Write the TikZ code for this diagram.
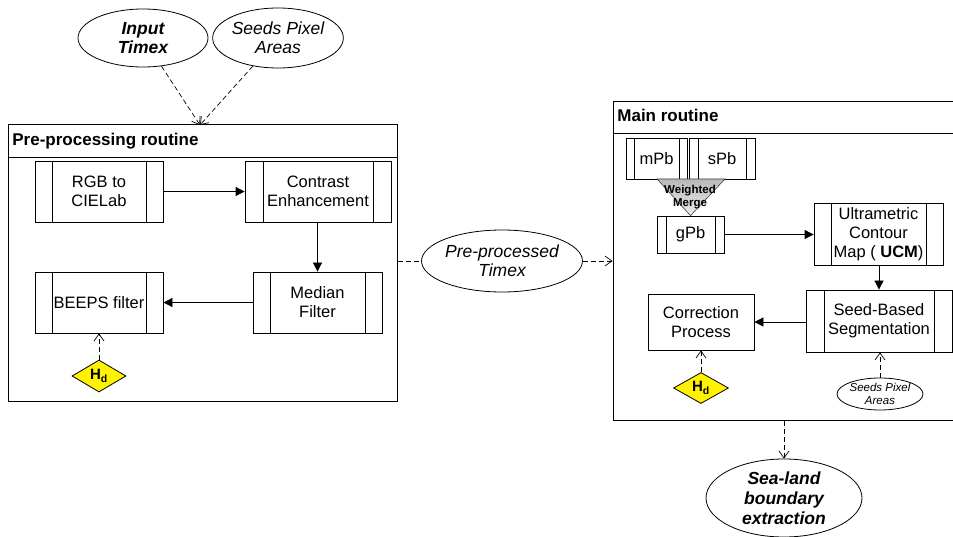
\documentclass[tikz,border=0pt]{standalone}
\usepackage{fontspec}
\setmainfont{Liberation Sans}
\usetikzlibrary{arrows.meta,shapes.geometric}

\tikzset{
  boxtext/.style={font=\fontsize{16.5}{19}\selectfont},
  proc/.style={draw, rectangle, align=center, boxtext, inner sep=0pt,
    path picture={
      \draw ([xshift=#1]path picture bounding box.north west) -- ([xshift=#1]path picture bounding box.south west)
            ([xshift=-#1]path picture bounding box.north east) -- ([xshift=-#1]path picture bounding box.south east);
    }},
  proc/.default=17pt,
  plainbox/.style={draw, rectangle, align=center, boxtext, inner sep=0pt},
  routine/.style={draw, rectangle, line width=1pt, inner sep=0pt},
  datum/.style={draw, ellipse, align=center, inner sep=0pt,
    font=\fontsize{17.5}{19}\selectfont\itshape},
  param/.style={draw, diamond, fill=yellow, inner sep=0pt, aspect=1.7,
    font=\fontsize{15}{17}\selectfont\bfseries},
  flow/.style={draw, line width=0.8pt, -{Triangle[length=9pt,width=9pt]}},
  dataflow/.style={draw, line width=0.7pt, dash pattern=on 5pt off 3pt,
    -{Straight Barb[length=7pt,width=10pt]}},
  datalink/.style={draw, line width=0.7pt, dash pattern=on 5pt off 3pt},
  title/.style={font=\fontsize{17}{19}\selectfont\bfseries, inner sep=0pt, anchor=base west}
}

\begin{document}
\begin{tikzpicture}[x=1pt,y=-1pt, line width=0.8pt]
\useasboundingbox (0,0) rectangle (953,537);

% inputs
\node[datum, minimum width=130pt, minimum height=58pt, font=\fontsize{17.5}{19}\selectfont\bfseries\itshape]
  (input) at (143,38) {Input\\Timex};
\node[datum, minimum width=128pt, minimum height=60pt] (seedsTop) at (278,38) {Seeds Pixel\\Areas};

% pre-processing routine
\node[routine, minimum width=389pt, minimum height=276pt] (pre) at (202.5,263) {};
\draw (pre.west |- 0,157) -- (pre.east |- 0,157);
\node[title] (preTitle) at (12,146) {Pre-processing routine};
\coordinate (preTop) at (200,125);

\node[proc, minimum width=128pt, minimum height=61pt] (rgb) at (99,191.5) {RGB to\\CIELab};
\node[proc=18pt, minimum width=146pt, minimum height=61pt] (contrast) at (318,191.5) {Contrast\\Enhancement};
\node[proc, minimum width=129pt, minimum height=61pt] (median) at (317.5,302.5) {Median\\Filter};
\node[proc, minimum width=128pt, minimum height=61pt] (beeps) at (99,302.5) {BEEPS filter};
\node[param, minimum width=54pt, minimum height=32pt] (hdA) at (99,376) {H\textsubscript{d}};

\draw[dataflow] (input) -- (preTop);
\draw[dataflow] (seedsTop) -- (preTop);
\draw[flow] (rgb) -- (contrast);
\draw[flow] (contrast.south -| median.north) -- (median.north);
\draw[flow] (median) -- (beeps);
\draw[dataflow] (hdA) -- (beeps);

% intermediate result
\node[datum, minimum width=138pt, minimum height=62pt] (preTimex) at (502,261) {Pre-processed\\Timex};
\draw[datalink] (pre.east |- preTimex) -- (preTimex);

% main routine
\node[routine, minimum width=352pt, minimum height=318pt] (main) at (789,261) {};
\draw (main.west |- 0,133) -- (main.east |- 0,133);
\node[title] (mainTitle) at (617,122) {Main routine};
\draw[dataflow] (preTimex) -- (main.west |- preTimex);

\node[proc=8pt, minimum width=61pt, minimum height=41pt] (mpb) at (656.5,158.5) {mPb};
\node[proc=9pt, minimum width=66pt, minimum height=41pt] (spb) at (722,158.5) {sPb};
\node[proc=9pt, minimum width=67pt, minimum height=37pt] (gpb) at (690.5,234.5) {gPb};

% weighted merge of the two contour cues
\shade[top color=gray!55, bottom color=gray!15, draw=black!75, line width=0.6pt]
  (657,179) -- (725,179) -- (gpb.north) -- cycle;
\node[align=center, inner sep=0pt, font=\fontsize{11.5}{12.5}\selectfont\bfseries] (merge) at (690,197) {Weighted\\Merge};

\node[proc, minimum width=129pt, minimum height=62pt] (ucm) at (878.5,234) {Ultrametric\\Contour\\Map ( \textbf{UCM})};
\node[proc=18pt, minimum width=146pt, minimum height=62pt] (seg) at (879,321) {Seed-Based\\Segmentation};
\node[plainbox, minimum width=106pt, minimum height=56pt] (corr) at (701,322) {Correction\\Process};
\node[param, minimum width=55pt, minimum height=31pt] (hdB) at (701,388) {H\textsubscript{d}};
\node[datum, minimum width=86pt, minimum height=32pt, font=\fontsize{11.5}{13}\selectfont\itshape] (seedsSmall) at (880,394) {Seeds Pixel\\Areas};

\draw[flow] (gpb) -- (ucm.west |- gpb);
\draw[flow] (ucm.south -| seg.north) -- (seg.north);
\draw[flow] (seg.west |- corr) -- (corr);
\draw[dataflow] (hdB) -- (corr);
\draw[dataflow] (seedsSmall) -- (seg.south -| seedsSmall);

% output
\node[datum, minimum width=156pt, minimum height=78pt, font=\fontsize{17.5}{20}\selectfont\bfseries\itshape] (sea) at (784,498) {Sea-land\\boundary\\extraction};
\draw[dataflow] (main.south -| sea.north) -- (sea);
\end{tikzpicture}
\end{document}
